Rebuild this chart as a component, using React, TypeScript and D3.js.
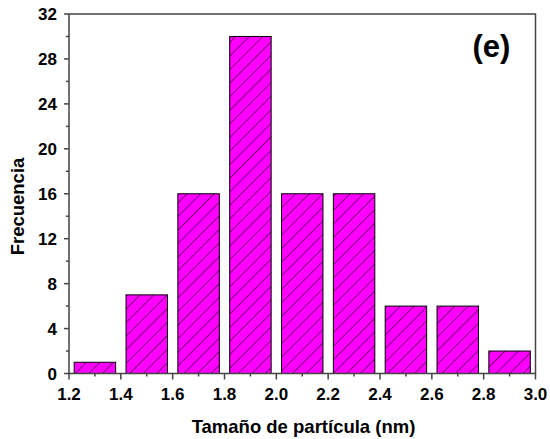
import React from "react";
import * as d3 from "d3";

// Particle-size histogram (bin centres in nm) and counts
const binCenters = [1.3, 1.5, 1.7, 1.9, 2.1, 2.3, 2.5, 2.7, 2.9];
const counts = [1, 7, 16, 30, 16, 16, 6, 6, 2];
const xTicks = [1.2, 1.4, 1.6, 1.8, 2.0, 2.2, 2.4, 2.6, 2.8, 3.0];
const yTicks = [0, 4, 8, 12, 16, 20, 24, 28, 32];
const xMinor = [1.3, 1.5, 1.7, 1.9, 2.1, 2.3, 2.5, 2.7, 2.9];
const yMinor = [2, 6, 10, 14, 18, 22, 26, 30];

const W = 550;
const H = 439;
const M = { left: 69, top: 14, right: 535.5, bottom: 373.5 };
const BAR_W = 0.16;
const FONT = "Arial, 'Liberation Sans', sans-serif";
const AXIS = "#444";

export default function App() {
  const x = d3.scaleLinear().domain([1.2, 3.0]).range([M.left, M.right]);
  const y = d3.scaleLinear().domain([0, 32]).range([M.bottom, M.top]);

  return (
    <svg
      width={W}
      height={H}
      style={{ position: "absolute", left: 0, top: 0 }}
      fontFamily={FONT}
    >
      <defs>
        <pattern
          id="hatch"
          patternUnits="userSpaceOnUse"
          width={9.6}
          height={9.6}
          patternTransform="rotate(45)"
        >
          <rect width={9.6} height={9.6} fill="#ff00ff" />
          <line x1={0} y1={0} x2={0} y2={9.6} stroke="#000" strokeWidth={1} />
        </pattern>
      </defs>
      <rect width={W} height={H} fill="#fff" />

      {binCenters.map((c, i) => (
        <rect
          key={i}
          x={x(c - BAR_W / 2)}
          y={y(counts[i])}
          width={x(c + BAR_W / 2) - x(c - BAR_W / 2)}
          height={y(0) - y(counts[i])}
          fill="url(#hatch)"
          stroke="#000"
          strokeWidth={1}
        />
      ))}

      {/* frame */}
      <rect
        x={M.left}
        y={M.top}
        width={M.right - M.left}
        height={M.bottom - M.top}
        fill="none"
        stroke={AXIS}
        strokeWidth={1.5}
      />

      {/* y axis ticks */}
      {yTicks.map((t) => (
        <g key={"y" + t}>
          <line x1={M.left - 5} x2={M.left} y1={y(t)} y2={y(t)} stroke={AXIS} strokeWidth={1.5} />
          <text
            x={M.left - 12}
            y={y(t)}
            dy="0.36em"
            textAnchor="end"
            fontSize={17}
            fontWeight="bold"
          >
            {t}
          </text>
        </g>
      ))}
      {yMinor.map((t) => (
        <line key={"ym" + t} x1={M.left - 3} x2={M.left} y1={y(t)} y2={y(t)} stroke={AXIS} strokeWidth={1.5} />
      ))}

      {/* x axis ticks */}
      {xTicks.map((t) => (
        <g key={"x" + t}>
          <line x1={x(t)} x2={x(t)} y1={M.bottom} y2={M.bottom + 6} stroke={AXIS} strokeWidth={1.5} />
          <text x={x(t)} y={399.5} textAnchor="middle" fontSize={17} fontWeight="bold">
            {t.toFixed(1)}
          </text>
        </g>
      ))}
      {xMinor.map((t) => (
        <line key={"xm" + t} x1={x(t)} x2={x(t)} y1={M.bottom} y2={M.bottom + 3} stroke={AXIS} strokeWidth={1.5} />
      ))}

      <text x={303.5} y={433} textAnchor="middle" fontSize={18.5} fontWeight="bold">
        Tamaño de partícula (nm)
      </text>
      <text
        transform="translate(24,206.5) rotate(-90)"
        textAnchor="middle"
        fontSize={18.5}
        fontWeight="bold"
      >
        Frecuencia
      </text>
      <text x={491.5} y={56.5} textAnchor="middle" fontSize={31} fontWeight="bold">
        (e)
      </text>
    </svg>
  );
}
